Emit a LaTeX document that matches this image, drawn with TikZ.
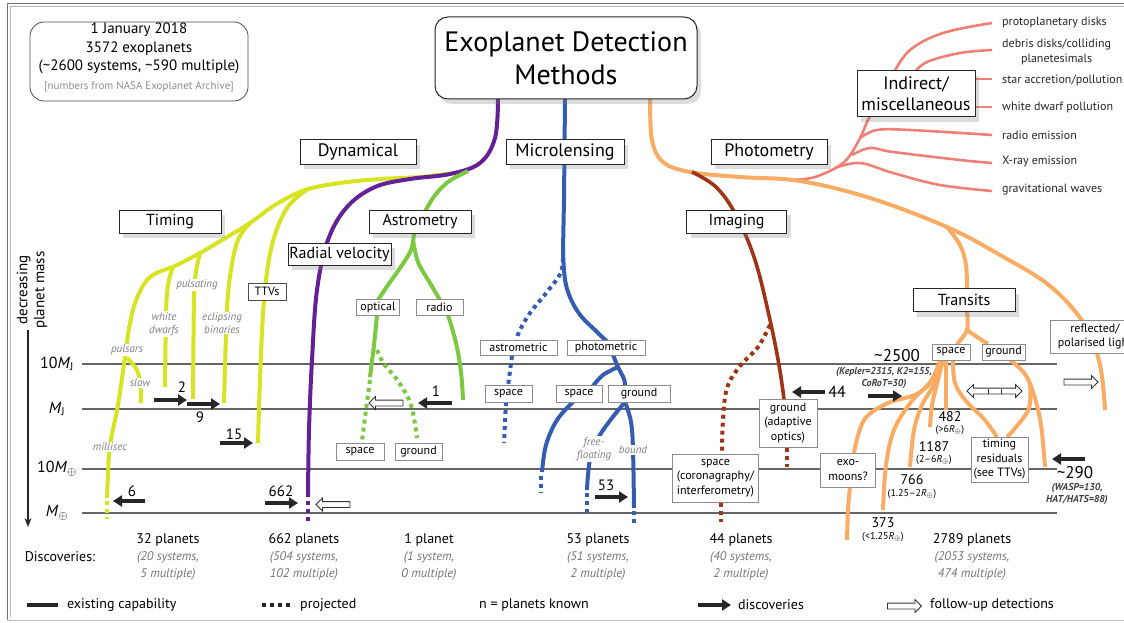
\documentclass[tikz,border=0pt]{standalone}
\usepackage{fontspec}
\setmainfont{PT Sans}
\usetikzlibrary{arrows.meta,shapes.arrows,shadows}
\definecolor{ylw}{RGB}{214,228,36}
\definecolor{purp}{RGB}{100,32,150}
\definecolor{grn}{RGB}{125,200,65}
\definecolor{blu}{RGB}{52,92,178}
\definecolor{org}{RGB}{250,172,100}
\definecolor{brn}{RGB}{160,52,22}
\definecolor{sal}{RGB}{240,128,118}
\newcommand{\shaft}{\rule{0pt}{5pt}}
\newcommand{\eoplus}{\textsubscript{\fontsize{12}{12}\selectfont$\oplus$}}
\newcommand{\roplus}{\textsubscript{$\oplus$}}
\tikzset{
  cat/.style={draw=black!85, fill=white, line width=1pt, inner sep=0pt, minimum height=24pt,
     font=\fontsize{18}{21}\selectfont, align=center,
     drop shadow={opacity=0.28, shadow xshift=4pt, shadow yshift=-5pt}},
  cattwo/.style={cat, minimum height=23pt, font=\fontsize{16}{19}\selectfont},
  sub/.style={draw=black!45, fill=white, line width=0.7pt, inner sep=0pt, minimum height=16pt,
     font=\fontsize{12}{14.5}\selectfont, align=center},
  glab/.style={text=black!50, fill=white, inner sep=1pt, align=center, font=\fontsize{11}{13}\selectfont\itshape},
  num/.style={inner sep=0pt, font=\fontsize{15}{17}\selectfont},
  tnum/.style={inner sep=0pt, font=\fontsize{14}{16}\selectfont},
  tsub/.style={inner sep=0pt, font=\fontsize{10}{12}\selectfont},
  small/.style={inner sep=0pt, align=center, font=\fontsize{10}{12}\selectfont\itshape\bfseries, text=black!75},
  massline/.style={draw=black!60, line width=1.2pt},
  ln/.style={line width=4pt},
  dots/.style={line width=4pt, dash pattern=on 4pt off 4pt},
  barrow/.style={draw=black!85, line width=4.5pt, -{Triangle[length=9pt,width=11pt]}},
  hollowR/.style={single arrow, draw=black!80, fill=white, line width=0.8pt, minimum height=34pt,
     single arrow head extend=3.5pt, single arrow head indent=0pt, inner xsep=0pt, inner ysep=0pt},
  hollowL/.style={hollowR, shape border rotate=180},
  ind/.style={anchor=west, inner sep=0pt, align=center, font=\fontsize{12}{15}\selectfont, text=black!85},
  stat/.style={inner sep=0pt, font=\fontsize{14}{16}\selectfont},
  statit/.style={inner sep=0pt, align=center, text=black!55, font=\fontsize{12.5}{17}\selectfont\itshape},
  leg/.style={inner sep=0pt, font=\fontsize{14}{16}\selectfont},
  mass/.style={inner sep=0pt, font=\fontsize{16}{18}\selectfont},
}
\begin{document}
\begin{tikzpicture}[x=1pt,y=-1pt]
\useasboundingbox (0,0) rectangle (1124,623);
% frame
\draw[black!55, line width=1.3pt] (1140,3.5) -- (7.5,3.5) -- (7.5,620);
\draw[black!30, line width=0.8pt] (1140,6.5) -- (10.5,6.5) -- (10.5,617);
\draw[black!25, line width=0.8pt] (7.5,620) -- (1140,620);

% mass lines
\coordinate (mlL1) at (82,364); \coordinate (mlR1) at (1057,364);
\coordinate (mlL2) at (82,409); \coordinate (mlR2) at (1057,409);
\coordinate (mlL3) at (82,469); \coordinate (mlR3) at (1057,469);
\coordinate (mlL4) at (82,513); \coordinate (mlR4) at (1057,513);
\draw[massline] (mlL1) -- (mlR1);
\draw[massline] (mlL2) -- (mlR2);
\draw[massline] (mlL3) -- (mlR3);
\draw[massline] (mlL4) -- (mlR4);
\node[mass] (m1) at (57,364) {10\textit{M}\textsubscript{J}};
\node[mass] (m2) at (57,409) {\textit{M}\textsubscript{J}};
\node[mass] (m3) at (57,469) {10\textit{M}\eoplus};
\node[mass] (m4) at (57,513) {\textit{M}\eoplus};
\coordinate (axT) at (28,330); \coordinate (axB) at (28,527);
\draw[black!85, line width=1.2pt, -{Stealth[length=9pt,width=7pt]}] (axT) -- (axB);
\node[rotate=90, align=center, inner sep=0pt, font=\fontsize{15}{17}\selectfont] (axlab) at (32,290) {decreasing\\planet mass};

% ---------------- coloured lines ----------------
% salmon (indirect)
\draw[sal, line width=2.6pt] plot[smooth, tension=0.6] coordinates {(790,180) (815,177) (843,163) (858,142) (868,120) (875,108)};
\draw[sal, line width=2.6pt] plot[smooth, tension=0.6] coordinates {(835,168) (860,163) (893,173) (940,185) (992,191)};
\draw[sal, line width=2.6pt] plot[smooth, tension=0.6] coordinates {(852,155) (870,148) (893,152) (960,160) (992,163)};
\draw[sal, line width=2.6pt] plot[smooth, tension=0.6] coordinates {(860,138) (877,130) (910,130) (992,135)};
\draw[sal, line width=2.6pt] (970,107) -- (992,107);
\draw[sal, line width=2.6pt] (970,79) -- (992,79);
\draw[sal, line width=2.6pt] plot[smooth, tension=0.6] coordinates {(913,74) (927,62) (960,53) (992,50)};
\draw[sal, line width=2.6pt] plot[smooth, tension=0.6] coordinates {(893,74) (910,50) (943,33) (992,23)};

% yellow (timing)
\draw[ylw, ln] plot[smooth, tension=0.6] coordinates {(455,173) (420,177) (380,179) (340,183) (305,190) (275,205) (250,223) (222,240) (200,253) (173,267)};
\draw[ylw, ln] plot[smooth, tension=0.6] coordinates {(173,267) (150,277) (137,298) (130,323) (125,357) (118,405) (110,445) (108,475) (107,498)};
\draw[ylw, dots] (107,501) -- (107,519);
\draw[ylw, ln] plot[smooth, tension=0.6] coordinates {(127,358) (135,367) (140,380) (141,403)};
\draw[ylw, ln] plot[smooth, tension=0.6] coordinates {(173,267) (168,285) (166,315) (165,387)};
\draw[ylw, ln] plot[smooth, tension=0.6] coordinates {(200,253) (196,272) (194,300) (193,399)};
\draw[ylw, ln] plot[smooth, tension=0.6] coordinates {(250,223) (238,240) (231,270) (227,310) (224,403)};
\draw[ylw, ln] plot[smooth, tension=0.6] coordinates {(308,189) (287,208) (272,245) (264,300) (260,380) (258,443)};

% purple (dynamical / RV)
\draw[purp, ln] plot[smooth, tension=0.6] coordinates {(498,99) (495,138) (480,163) (450,174) (410,179) (375,187) (347,207) (328,240) (317,290) (312,360) (309,430) (308,497)};
\draw[purp, dots] (308,501) -- (308,521);

% green (astrometry)
\draw[grn, ln] plot[smooth, tension=0.6] coordinates {(468,171) (448,182) (433,198) (420,221)};
\draw[grn, ln] plot[smooth, tension=0.6] coordinates {(414,233) (411,250) (400,268) (388,285) (378,300)};
\draw[grn, ln] plot[smooth, tension=0.6] coordinates {(413,240) (418,262) (430,283) (440,300)};
\draw[grn, ln] plot[smooth, tension=0.6] coordinates {(377,315) (374,345) (370,377)};
\draw[grn, dots] plot[smooth, tension=0.6] coordinates {(370,380) (366,410) (362,441)};
\draw[grn, dots] plot[smooth, tension=0.6] coordinates {(377,350) (384,364) (398,381) (411,405) (417,438)};
\draw[grn, ln] plot[smooth, tension=0.6] coordinates {(448,315) (456,343) (461,372) (463,400)};

% blue (microlensing)
\draw[blu, ln] (565,99) -- (564,200) -- (563,250);
\draw[blu, dots] plot[smooth, tension=0.6] coordinates {(563,250) (561,272) (547,292) (530,313) (519,332) (517,340)};
\draw[blu, ln] plot[smooth, tension=0.6] coordinates {(563,250) (566,285) (578,312) (597,332) (613,347)};
\draw[blu, ln] plot[smooth, tension=0.6] coordinates {(613,355) (618,367) (624,379) (625,386)};
\draw[blu, ln] plot[smooth, tension=0.6] coordinates {(618,367) (603,375) (593,386)};
\draw[blu, dots] (512,356) -- (508,386);
\draw[blu, dots] (506,402) -- (504,443);
\draw[blu, ln] plot[smooth, tension=0.6] coordinates {(573,402) (557,420) (546,445) (542,472)};
\draw[blu, dots] (541,476) -- (541,493);
\draw[blu, ln] plot[smooth, tension=0.6] coordinates {(625,402) (612,418) (600,435) (591,455) (588,475) (587,490)};
\draw[blu, dots] (587,493) -- (587,513);
\draw[blu, ln] plot[smooth, tension=0.6] coordinates {(625,402) (631,422) (633,450) (634,508)};
\draw[blu, dots] (634,511) -- (634,525);

% orange (photometry)
\draw[org, ln] plot[smooth, tension=0.6] coordinates {(650,99) (652,140) (663,162) (690,172) (740,177) (800,181) (870,198) (947,227) (1000,255) (1050,286) (1085,325) (1100,365) (1105,410)};
\draw[org, ln] plot[smooth, tension=0.6] coordinates {(947,227) (960,245) (966,265) (967,290)};
\draw[org, ln] plot[smooth, tension=0.6] coordinates {(967,312) (967,330) (957,344)};
\draw[org, ln] plot[smooth, tension=0.6] coordinates {(967,330) (977,337) (988,344)};
% transit fan
\draw[org, ln] plot[smooth, tension=0.6] coordinates {(940,360) (934,378) (917,394) (888,403) (864,420) (854,453)};
\draw[org, ln] plot[smooth, tension=0.6] coordinates {(850,487) (848,510) (847,540)};
\draw[org, ln] plot[smooth, tension=0.6] coordinates {(940,360) (931,381) (911,402) (894,430) (886,465) (883,510)};
\draw[org, ln] plot[smooth, tension=0.6] coordinates {(941,360) (934,384) (922,405) (914,430) (910,467)};
\draw[org, ln] plot[smooth, tension=0.6] coordinates {(943,360) (937,384) (932,405) (930,427)};
\draw[org, ln] plot[smooth, tension=0.6] coordinates {(946,360) (946,385) (946,410)};
\draw[org, ln] plot[smooth, tension=0.6] coordinates {(953,360) (955,383) (966,401) (984,419) (997,437)};
\draw[org, ln] plot[smooth, tension=0.6] coordinates {(1010,360) (1025,374) (1034,395) (1041,425) (1045,467)};
\draw[org, ln] plot[smooth, tension=0.6] coordinates {(1030,383) (1029,408) (1016,427) (1007,437)};

% brown (imaging)
\draw[brn, line width=3.6pt] plot[smooth, tension=0.6] coordinates {(692,172) (716,187) (736,215) (755,260) (770,320) (779,365) (784,399)};
\draw[brn, dots] plot[smooth, tension=0.6] coordinates {(770,325) (758,347) (740,366) (727,388) (723,420) (722,454)};
\draw[brn, dots] (721,503) -- (721,522);
\draw[brn, dots] (787,448) -- (787,467);

% ---------------- boxes ----------------
\draw[black!70, line width=0.8pt, rounded corners=14pt] (30,22) rectangle (248,101);
\node[inner sep=0pt, align=center, font=\fontsize{15}{18.5}\selectfont] (info) at (139,57.5)
  {1 January 2018\\3572 exoplanets\\(\textasciitilde2600 systems, \textasciitilde590 multiple)\\
   {\fontsize{11}{13}\selectfont\color{black!45}[numbers from NASA Exoplanet Archive]}};

\node[draw=black!85, fill=white, line width=1pt, rounded corners=13pt, minimum width=262pt, minimum height=82pt,
  align=center, inner sep=0pt, font=\fontsize{28}{33}\selectfont,
  drop shadow={opacity=0.28, shadow xshift=4pt, shadow yshift=-5pt}] (title) at (566,58) {Exoplanet Detection\\Methods};

\node[cat, minimum width=116pt] (dyn) at (358,152) {Dynamical};
\node[cat, minimum width=118pt] (micro) at (565,152) {Microlensing};
\node[cat, minimum width=116pt] (phot) at (769,152) {Photometry};
\node[cat, minimum width=118pt, minimum height=46pt] (indir) at (916,94) {Indirect/\\miscellaneous};
\node[cattwo, minimum width=102pt] (timing) at (170,221.5) {Timing};
\node[cattwo, minimum width=102pt] (astro) at (420,221.5) {Astrometry};
\node[cattwo, minimum width=103pt, minimum height=22pt] (rv) at (339.5,254) {Radial velocity};
\node[cattwo, minimum width=100pt] (imag) at (736.5,221.5) {Imaging};
\node[cattwo, minimum width=102pt] (trans) at (964,300) {Transits};

\node[sub, draw=black!70, minimum width=38pt, minimum height=17pt] (ttv) at (267,291.5) {TTVs};
\node[sub, minimum width=43pt] (opt) at (378,307) {optical};
\node[sub, minimum width=47pt] (rad) at (439.5,307) {radio};
\node[sub, minimum width=77pt, minimum height=15pt] (astm) at (518.5,347.5) {astrometric};
\node[sub, minimum width=78pt, minimum height=15pt] (phtm) at (606,347.5) {photometric};
\node[sub, minimum width=47pt, minimum height=17pt] (msp1) at (508.5,394) {space};
\node[sub, minimum width=46pt, minimum height=17pt] (msp2) at (579,394) {space};
\node[sub, minimum width=62pt, minimum height=17pt] (mgr) at (639,394) {ground};
\node[sub, minimum width=48pt, minimum height=17pt] (asp) at (360,451.5) {space};
\node[sub, minimum width=47pt, minimum height=17pt] (agr) at (418.5,451.5) {ground};
\node[sub, minimum width=86pt, minimum height=48pt] (coron) at (715.5,478) {space\\(coronagraphy/\\interferometry)};
\node[sub, minimum width=58pt, minimum height=48pt] (adapt) at (788,423) {ground\\(adaptive\\optics)};
\node[sub, minimum width=55pt, minimum height=34pt] (exom) at (848,470) {exo-\\moons?};
\node[sub, minimum width=57pt, minimum height=45pt] (tres) at (999.5,459.5) {timing\\residuals\\(see TTVs)};
\node[sub, minimum width=38pt] (tsp) at (951,352) {space};
\node[sub, minimum width=43pt] (tgr) at (1003.5,352) {ground};
\node[sub, minimum width=90pt, minimum height=33pt] (refl) at (1095,336.5) {reflected/\\polarised light};

% indirect list
\node[ind] (i1) at (1002,22) {protoplanetary disks};
\node[ind] (i2) at (1002,51.5) {debris disks/colliding\\planetesimals};
\node[ind] (i3) at (1002,80) {star accretion/pollution};
\node[ind] (i4) at (1002,107) {white dwarf pollution};
\node[ind] (i5) at (1002,135) {radio emission};
\node[ind] (i6) at (1002,161) {X-ray emission};
\node[ind] (i7) at (1002,190) {gravitational waves};

% grey italic labels
\node[glab] (lpuls) at (127,350) {pulsars};
\node[glab] (lwd) at (164,324) {white\\dwarfs};
\node[glab] (lpulsat) at (197,285) {pulsating};
\node[glab] (lecl) at (222,323) {eclipsing\\binaries};
\node[glab] (lslow) at (140,383) {slow};
\node[glab] (lmilli) at (110,447) {millisec};
\node[glab] (lfree) at (594,449) {free-\\floating};
\node[glab] (lbound) at (633,450) {bound};

% ---------------- arrows ----------------
\coordinate (a2s) at (154,400); \coordinate (a2e) at (187,400);
\coordinate (a9s) at (187,404); \coordinate (a9e) at (220,404);
\coordinate (a15s) at (220,443); \coordinate (a15e) at (253,443);
\coordinate (a6s) at (145,501); \coordinate (a6e) at (113,501);
\coordinate (a662s) at (265,503); \coordinate (a662e) at (298,503);
\coordinate (a1s) at (452,403); \coordinate (a1e) at (418,403);
\coordinate (a53s) at (595,497); \coordinate (a53e) at (628,497);
\coordinate (a44s) at (825,392); \coordinate (a44e) at (792,392);
\coordinate (a25s) at (868,396); \coordinate (a25e) at (902,396);
\coordinate (a29s) at (1085,459); \coordinate (a29e) at (1052,459);
\draw[barrow] (a2s) -- (a2e);
\draw[barrow] (a9s) -- (a9e);
\draw[barrow] (a15s) -- (a15e);
\draw[barrow] (a6s) -- (a6e);
\draw[barrow] (a662s) -- (a662e);
\draw[barrow] (a1s) -- (a1e);
\draw[barrow] (a53s) -- (a53e);
\draw[barrow] (a44s) -- (a44e);
\draw[barrow] (a25s) -- (a25e);
\draw[barrow] (a29s) -- (a29e);
\node[num] (n2) at (182,387) {2};
\node[num] (n9) at (200,417) {9};
\node[num] (n15) at (234,434) {15};
\node[num] (n6) at (132,491) {6};
\node[num] (n662) at (281,491) {662};
\node[num] (n1) at (436,391) {1};
\node[num] (n53) at (606,485) {53};
\node[num, font=\fontsize{16}{18}\selectfont] (n44) at (837,392) {44};
\node[num, font=\fontsize{17}{19}\selectfont] (n2500) at (897,356) {\textasciitilde2500};
\node[small] (kep) at (884,378) {(Kepler=2315, K2=155,\\CoRoT=30)};
\node[num, font=\fontsize{17}{19}\selectfont] (n290) at (1075,473) {\textasciitilde290};
\node[small] (wasp) at (1077,494.5) {(WASP=130,\\HAT/HATS=88)};

\node[hollowL] (h1) at (334.5,504.5) {\shaft};
\node[hollowL] (h2) at (387.5,403) {\shaft};
\node[hollowR] (h3) at (1079.5,382) {\shaft};
\node[double arrow, draw=black!80, fill=white, line width=0.8pt, minimum height=55pt,
  double arrow head extend=3.5pt, double arrow head indent=0pt, inner xsep=0pt, inner ysep=0pt] (h4) at (994.5,391) {\shaft};
\draw[black!80, line width=0.8pt] (988,388.5) -- (988,393.5) (1001,388.5) -- (1001,393.5);

% transit numbers
\node[tnum] (t482) at (950,417) {482};
\node[tsub] (t482b) at (950,430) {(>6\textit{R}\roplus)};
\node[tnum] (t1187) at (934,447) {1187};
\node[tsub] (t1187b) at (934,460) {(2--6\textit{R}\roplus)};
\node[tnum] (t766) at (912,480) {766};
\node[tsub] (t766b) at (912,494) {(1.25--2\textit{R}\roplus)};
\node[tnum] (t373) at (883,523) {373};
\node[tsub] (t373b) at (883,537) {(<1.25\textit{R}\roplus)};

% ---------------- discoveries ----------------
\node[stat] (disc) at (60,557) {Discoveries:};
\node[stat] (s1) at (168,540) {32 planets};
\node[statit] (s1b) at (168,565.5) {(20 systems,\\5 multiple)};
\node[stat] (s2) at (304,540) {662 planets};
\node[statit] (s2b) at (304,565.5) {(504 systems,\\102 multiple)};
\node[stat] (s3) at (429,540) {1 planet};
\node[statit] (s3b) at (429,565.5) {(1 system,\\0 multiple)};
\node[stat] (s4) at (598,540) {53 planets};
\node[statit] (s4b) at (598,565.5) {(51 systems,\\2 multiple)};
\node[stat] (s5) at (741,540) {44 planets};
\node[statit] (s5b) at (741,565.5) {(40 systems,\\2 multiple)};
\node[stat] (s6) at (972,540) {2789 planets};
\node[statit] (s6b) at (972,565.5) {(2053 systems,\\474 multiple)};

% ---------------- legend ----------------
\coordinate (lg1s) at (27,605); \coordinate (lg1e) at (58,605);
\coordinate (lg2s) at (262,605); \coordinate (lg2e) at (294,605);
\coordinate (lg3s) at (698,605); \coordinate (lg3e) at (731,605);
\draw[black!85, line width=4.5pt] (lg1s) -- (lg1e);
\draw[black!85, dots] (lg2s) -- (lg2e);
\draw[barrow] (lg3s) -- (lg3e);
\node[hollowR] (lg4) at (903,606) {\shaft};
\node[leg, anchor=west] (l1) at (67,605) {existing capability};
\node[leg, anchor=west] (l2) at (300,605) {projected};
\node[leg] (l3) at (534,605) {n = planets known};
\node[leg, anchor=west] (l4) at (738,605) {discoveries};
\node[leg, anchor=west] (l5) at (930,605) {follow-up detections};
\end{tikzpicture}
\end{document}
